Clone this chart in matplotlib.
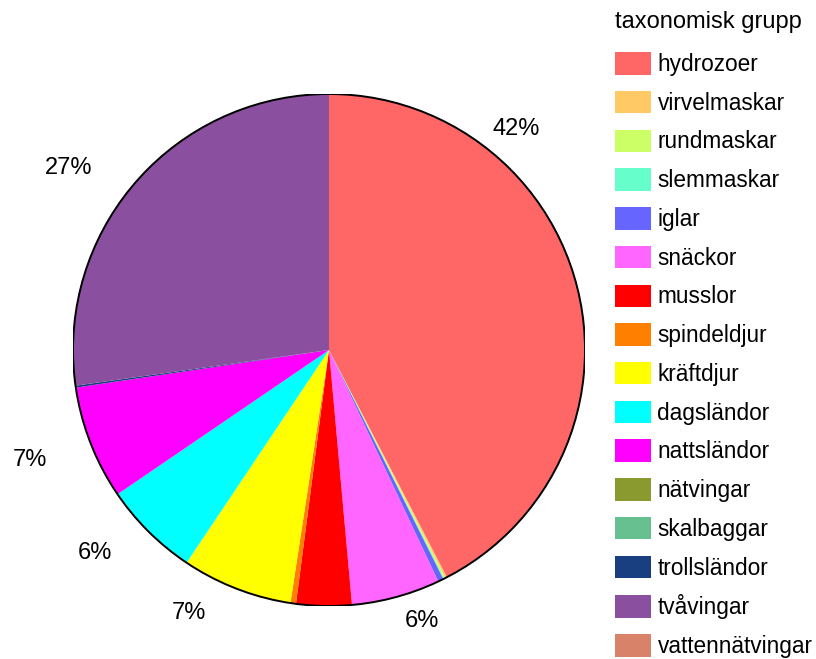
import numpy as np
import matplotlib
matplotlib.use("Agg")
import matplotlib.pyplot as plt
from matplotlib.patches import Patch

plt.rcParams['font.family'] = ['Liberation Sans', 'DejaVu Sans']

groups = ['hydrozoer', 'virvelmaskar', 'rundmaskar', 'slemmaskar', 'iglar',
          'snäckor', 'musslor', 'spindeldjur', 'kräftdjur', 'dagsländor',
          'nattsländor', 'nätvingar', 'skalbaggar', 'trollsländor',
          'tvåvingar', 'vattennätvingar']
# share of individuals in percent
share = [42.5, 0.1, 0.1, 0.05, 0.35,
         5.6, 3.5, 0.35, 7.0, 6.1,
         7.2, 0.0, 0.0, 0.12,
         27.3, 0.0]
colors = ['#FF6666', '#FFC966', '#CCFF66', '#66FFCC', '#6666FF',
          '#FF66FF', '#FF0000', '#FF8000', '#FFFF00', '#00FFFF',
          '#FF00FF', '#8B9A2E', '#66C090', '#1A3F80',
          '#8B4F9F', '#D9826A']
# label placement: (clockwise nudge in degrees, radius factor)
label_place = {0: (-36, 1.13), 5: (-3.7, 1.12), 8: (6.7, 1.165),
               9: (4.2, 1.21), 10: (1.1, 1.245), 14: (-6, 1.24)}

fs = 17
lfs = 16.3
fig = plt.figure(figsize=(8.16, 6.59), dpi=100)
ax = fig.add_axes([73 / 816, 53 / 659, 512 / 816, 512 / 659])

wedges, _ = ax.pie(share, colors=colors, startangle=90, counterclock=False,
                   radius=1, wedgeprops=dict(linewidth=0))
ax.add_patch(plt.Circle((0, 0), 1, fill=False, ec='black', lw=1.4))
ax.set_xlim(-1, 1)
ax.set_ylim(-1, 1)
ax.set_aspect('equal')
ax.axis('off')

total = sum(share)
for i, (w, v) in enumerate(zip(wedges, share)):
    pct = 100 * v / total
    if pct < 5:
        continue
    shift, rr = label_place.get(i, (0, 1.15))
    mid = np.radians((w.theta1 + w.theta2) / 2 - shift)
    ax.text(rr * np.cos(mid), rr * np.sin(mid), f'{pct:.0f}%',
            ha='center', va='center', fontsize=fs, clip_on=False)

fig.text(615 / 816, 1 - 22 / 659, 'taxonomisk grupp', fontsize=fs,
         ha='left', va='center')
handles = [Patch(facecolor=c, edgecolor='none') for c in colors]
fig.legend(handles, groups, loc='upper left',
           bbox_to_anchor=(597 / 816, 1 - 34 / 659), frameon=False, fontsize=lfs,
           handlelength=1.6, handleheight=1.15, handletextpad=0.27,
           labelspacing=0.655, borderpad=0.3)

fig.savefig('out.png', dpi=100)
